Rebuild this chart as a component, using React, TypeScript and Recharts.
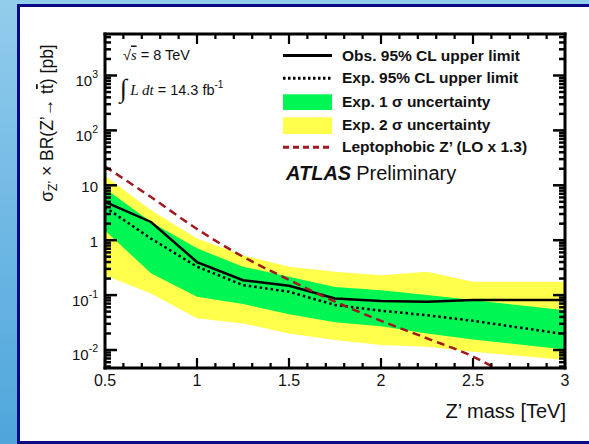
import React from 'react';
import { ComposedChart, Area, Line, XAxis, YAxis } from 'recharts';

// Z' mass points [TeV]
const masses = [0.5, 0.75, 1.0, 1.25, 1.5, 1.75, 2.0, 2.25, 2.5, 3.0];
// sigma x BR [pb]
const observed = [5.0, 2.15, 0.4, 0.187, 0.148, 0.087, 0.078, 0.076, 0.081, 0.081];
const expected = [4.0, 1.07, 0.33, 0.152, 0.115, 0.066, 0.052, 0.043, 0.034, 0.0194];
const sigma1Low = [1.5, 0.25, 0.093, 0.069, 0.045, 0.032, 0.027, 0.02, 0.0155, 0.0102];
const sigma1High = [8.7, 2.15, 0.71, 0.33, 0.215, 0.141, 0.123, 0.1, 0.081, 0.053];
const sigma2Low = [0.23, 0.107, 0.038, 0.0305, 0.02, 0.0152, 0.0123, 0.0115, 0.0093, 0.0066];
const sigma2High = [15, 3.5, 1.07, 0.53, 0.33, 0.265, 0.23, 0.265, 0.175, 0.175];

const leptoMasses = [0.5, 0.75, 1.0, 1.25, 1.5, 1.75, 2.0, 2.25, 2.5, 2.75, 3.0];
const leptoXsec = [22, 6.1, 1.6, 0.5, 0.19, 0.076, 0.034, 0.0163, 0.0076, 0.0026, 0.0009];

const xTicks = [0.5, 0.6, 0.7, 0.8, 0.9, 1.0, 1.1, 1.2, 1.3, 1.4, 1.5, 1.6, 1.7, 1.8, 1.9, 2.0, 2.1, 2.2, 2.3, 2.4, 2.5, 2.6, 2.7, 2.8, 2.9, 3.0];
const xMajorTicks = [0.5, 1, 1.5, 2, 2.5, 3];
const xMajorLabels = ['0.5', '1', '1.5', '2', '2.5', '3'];

const yTicks = [
  0.005, 0.006, 0.007, 0.008, 0.009,
  0.01, 0.02, 0.03, 0.04, 0.05, 0.06, 0.07, 0.08, 0.09,
  0.1, 0.2, 0.3, 0.4, 0.5, 0.6, 0.7, 0.8, 0.9,
  1, 2, 3, 4, 5, 6, 7, 8, 9,
  10, 20, 30, 40, 50, 60, 70, 80, 90,
  100, 200, 300, 400, 500, 600, 700, 800, 900,
  1000, 2000, 3000, 4000, 5000,
];
const yMajorTicks = [0.01, 0.1, 1, 10, 100, 1000];
const yLabelBase = ['10', '10', '1', '10', '10', '10'];
const yLabelExp = ['-2', '-1', '', '', '2', '3'];

const X_DOMAIN = [0.5, 3.0];
const Y_DOMAIN = [0.0047, 5700];

const data = masses.map((m, i) => ({
  mass: m,
  obs: observed[i],
  exp: expected[i],
  band1: [sigma1Low[i], sigma1High[i]],
  band2: [sigma2Low[i], sigma2High[i]],
}));
const leptoData = leptoMasses.map((m, i) => ({ mass: m, lepto: leptoXsec[i] }));

const FONT = '"Liberation Sans", Arial, Helvetica, sans-serif';
const SERIF = '"Liberation Serif", "Times New Roman", serif';
const GREEN = '#00f652';
const YELLOW = '#ffff4c';
const RED = '#a01820';

const majorIndexX = (v: number) => xMajorTicks.findIndex((t) => Math.abs(t - v) < 1e-6);
const majorIndexY = (v: number) => yMajorTicks.findIndex((t) => Math.abs(t - v) / t < 1e-6);

function BottomTick(props: any) {
  const { x, y, payload } = props;
  const idx = majorIndexX(payload.value);
  const major = idx >= 0;
  return (
    <g>
      <line x1={x} x2={x} y1={y} y2={y - (major ? 10 : 5)} stroke="#000" strokeWidth={2.2} />
      {major && (
        <text x={x} y={y + 18} textAnchor="middle" fontSize={16} fontFamily={FONT} fill="#111">
          {xMajorLabels[idx]}
        </text>
      )}
    </g>
  );
}

function TopTick(props: any) {
  const { x, y, payload } = props;
  const major = majorIndexX(payload.value) >= 0;
  return <line x1={x} x2={x} y1={y} y2={y + (major ? 10 : 5)} stroke="#000" strokeWidth={2.2} />;
}

function LeftTick(props: any) {
  const { x, y, payload } = props;
  const idx = majorIndexY(payload.value);
  const major = idx >= 0;
  const exp = major ? yLabelExp[idx] : '';
  return (
    <g>
      <line x1={x} x2={x + (major ? 12 : 6)} y1={y} y2={y} stroke="#000" strokeWidth={2.5} />
      {major && (
        <text x={x - 7} y={y + (exp ? 10.5 : 6.5)} textAnchor="end" fontSize={15} fontFamily={FONT} fill="#111">
          <tspan>{yLabelBase[idx]}</tspan>
          {exp && (
            <tspan dy={-8} fontSize={10.5}>
              {exp}
            </tspan>
          )}
        </text>
      )}
    </g>
  );
}

function RightTick(props: any) {
  const { x, y, payload } = props;
  const major = majorIndexY(payload.value) >= 0;
  return <line x1={x} x2={x - (major ? 12 : 6)} y1={y} y2={y} stroke="#000" strokeWidth={2.5} />;
}

const axisLine = { stroke: '#000', strokeWidth: 3, strokeLinecap: 'square' as const };

export default function App() {
  return (
    <div
      style={{
        position: 'absolute',
        left: 0,
        top: 0,
        width: 589,
        height: 444,
        overflow: 'hidden',
        background: 'linear-gradient(to bottom, #93cdec 0%, #6fb8e4 50%, #4ea6db 100%)',
      }}
    >
      <div
        style={{
          position: 'absolute',
          left: 17,
          top: 4,
          width: 640,
          height: 440,
          boxSizing: 'border-box',
          border: '3px solid #0a0a86',
          background: '#fff',
        }}
      />
      <div style={{ position: 'absolute', left: 0, top: 0 }}>
        <ComposedChart width={589} height={444} data={data} margin={{ top: 33, right: 23, bottom: 46, left: 45 }}>
          <Area
            dataKey="band2"
            type="linear"
            stroke="none"
            fill={YELLOW}
            fillOpacity={1}
            isAnimationActive={false}
            xAxisId="bottom"
            yAxisId="left"
          />
          <Area
            dataKey="band1"
            type="linear"
            stroke="none"
            fill={GREEN}
            fillOpacity={1}
            isAnimationActive={false}
            xAxisId="bottom"
            yAxisId="left"
          />
          <Line
            dataKey="exp"
            type="linear"
            stroke="#000"
            strokeWidth={2.5}
            strokeDasharray="2.5 3"
            dot={false}
            isAnimationActive={false}
            xAxisId="bottom"
            yAxisId="left"
          />
          <Line
            dataKey="obs"
            type="linear"
            stroke="#000"
            strokeWidth={2.5}
            dot={false}
            isAnimationActive={false}
            xAxisId="bottom"
            yAxisId="left"
          />
          <Line
            data={leptoData}
            dataKey="lepto"
            type="monotone"
            stroke={RED}
            strokeWidth={2.5}
            strokeDasharray="8 5"
            dot={false}
            isAnimationActive={false}
            xAxisId="bottom"
            yAxisId="left"
          />
          {/* invisible series that binds the mirrored top/right frame axes */}
          <Line
            dataKey="obs"
            type="linear"
            stroke="none"
            strokeWidth={0}
            dot={false}
            activeDot={false}
            legendType="none"
            isAnimationActive={false}
            xAxisId="top"
            yAxisId="right"
          />
          <XAxis
            xAxisId="bottom"
            dataKey="mass"
            type="number"
            domain={X_DOMAIN}
            allowDataOverflow
            ticks={xTicks}
            interval={0}
            height={30}
            tickSize={0}
            tickMargin={0}
            tickLine={false}
            axisLine={axisLine}
            tick={<BottomTick />}
          />
          <XAxis
            xAxisId="top"
            orientation="top"
            dataKey="mass"
            type="number"
            domain={X_DOMAIN}
            allowDataOverflow
            ticks={xTicks}
            interval={0}
            height={1}
            tickSize={0}
            tickMargin={0}
            tickLine={false}
            axisLine={axisLine}
            tick={<TopTick />}
          />
          <YAxis
            yAxisId="left"
            type="number"
            scale="log"
            domain={Y_DOMAIN}
            allowDataOverflow
            ticks={yTicks}
            interval={0}
            width={60}
            tickSize={0}
            tickMargin={0}
            tickLine={false}
            axisLine={axisLine}
            tick={<LeftTick />}
          />
          <YAxis
            yAxisId="right"
            orientation="right"
            type="number"
            scale="log"
            domain={Y_DOMAIN}
            allowDataOverflow
            ticks={yTicks}
            interval={0}
            width={1}
            tickSize={0}
            tickMargin={0}
            tickLine={false}
            axisLine={axisLine}
            tick={<RightTick />}
          />
        </ComposedChart>
      </div>
      <svg
        width={589}
        height={444}
        style={{ position: 'absolute', left: 0, top: 0, pointerEvents: 'none' }}
        fontFamily={FONT}
      >
        {/* y-axis title */}
        <text transform="translate(53,123) rotate(-90)" textAnchor="middle" fontSize={17.5} fill="#111">
          <tspan>σ</tspan>
          <tspan dy={4} fontSize={12}>Z’</tspan>
          <tspan dy={-4}> × BR(Z’→ t</tspan>
          <tspan style={{ textDecoration: 'overline' }}>t</tspan>
          <tspan>) [pb]</tspan>
        </text>
        {/* x-axis title */}
        <text x={566} y={418} textAnchor="end" fontSize={20} fill="#111">
          Z’ mass [TeV]
        </text>
        {/* sqrt s */}
        <text x={123} y={59.5} fontSize={14.5} fill="#111">
          <tspan>√</tspan>
          <tspan fontFamily={SERIF} fontStyle="italic" style={{ textDecoration: 'overline' }}>s</tspan>
          <tspan> = 8 TeV</tspan>
        </text>
        {/* luminosity */}
        <text x={120} y={97} fill="#111">
          <tspan fontFamily={SERIF} fontSize={26}>∫</tspan>
          <tspan fontFamily={SERIF} fontStyle="italic" fontSize={15} dx={3} dy={-2}>L dt</tspan>
          <tspan fontSize={14.5}> = 14.3 fb</tspan>
          <tspan fontSize={10} dy={-7}>-1</tspan>
        </text>
        {/* legend */}
        <line x1={283} x2={332} y1={55.5} y2={55.5} stroke="#000" strokeWidth={3} />
        <line x1={283} x2={332} y1={78.3} y2={78.3} stroke="#000" strokeWidth={3} strokeDasharray="2.5 2.5" />
        <rect x={283} y={94.3} width={49} height={15.7} fill={GREEN} />
        <rect x={283} y={117.3} width={49} height={16.7} fill={YELLOW} />
        <line x1={283} x2={332} y1={147.3} y2={147.3} stroke={RED} strokeWidth={3} strokeDasharray="6 4" />
        <g fontSize={15.5} fontWeight="bold" fill="#111">
          <text x={342} y={60.5}>Obs. 95% CL upper limit</text>
          <text x={342} y={83.3}>Exp. 95% CL upper limit</text>
          <text x={342} y={106.5}>Exp. 1 σ uncertainty</text>
          <text x={342} y={129.5}>Exp. 2 σ uncertainty</text>
          <text x={342} y={152}>Leptophobic Z’ (LO x 1.3)</text>
        </g>
        <text x={286} y={180} fontSize={20} fill="#111">
          <tspan fontWeight="bold" fontStyle="italic">ATLAS</tspan>
          <tspan dx={5}>Preliminary</tspan>
        </text>
      </svg>
    </div>
  );
}
